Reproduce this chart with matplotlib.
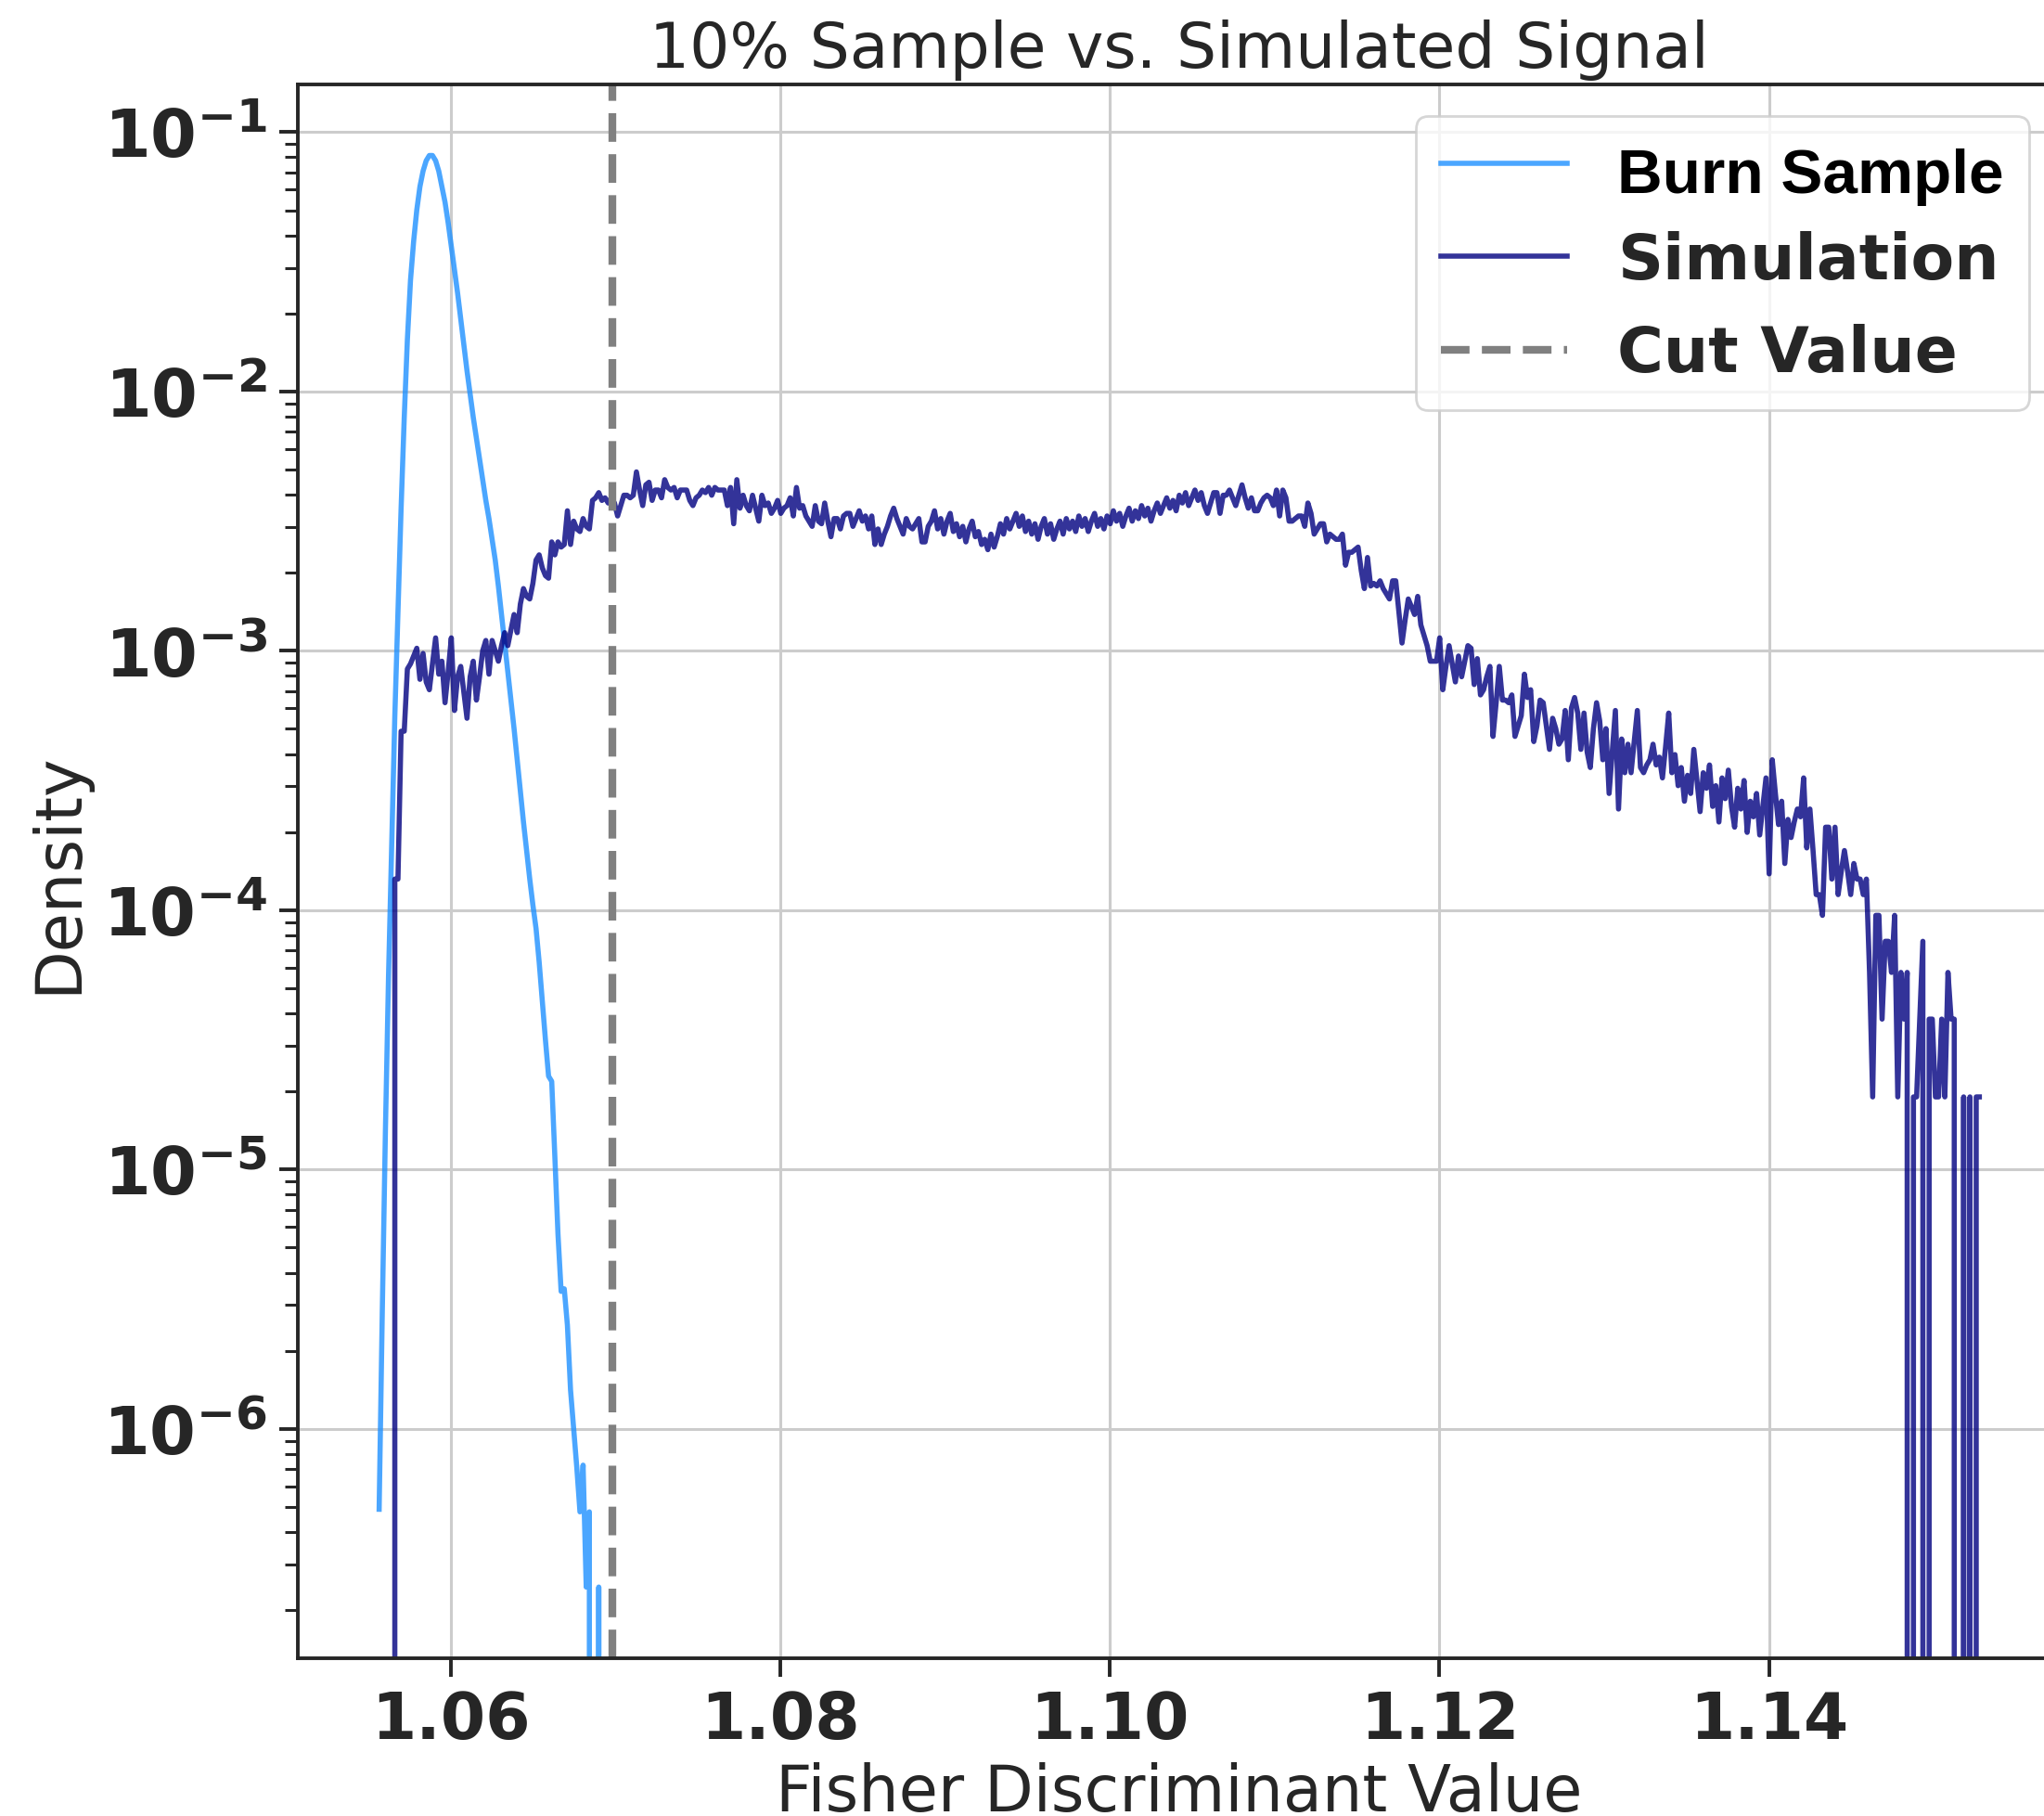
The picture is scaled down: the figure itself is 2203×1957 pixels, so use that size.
import numpy as np
import matplotlib
matplotlib.use('Agg')
import matplotlib.pyplot as plt
from matplotlib.ticker import FuncFormatter, NullFormatter
from matplotlib.transforms import ScaledTranslation

plt.rcParams['font.family'] = ['DejaVu Sans']
plt.rcParams['text.color'] = '#262626'
plt.rcParams['axes.labelcolor'] = '#262626'

# shared histogram bins (centres of first and last bin)
first_center = 1.05566
last_center = 1.15276
n_bins = 511
cut_value = 1.0698

# log10(density) per bin, None = empty bin
burn_log = [
    -6.31, -5.55, -4.85, -4.25, -3.75, -3.25, -2.85, -2.45, -2.10, -1.80,
    -1.57, -1.42, -1.30, -1.21, -1.15, -1.11, -1.09, -1.09, -1.11, -1.15,
    -1.21, -1.27, -1.35, -1.44, -1.53, -1.62, -1.72, -1.82, -1.92, -2.01,
    -2.10, -2.18, -2.26, -2.34, -2.42, -2.49, -2.57, -2.65, -2.75, -2.86,
    -2.97, -3.08, -3.19, -3.30, -3.42, -3.54, -3.66, -3.77, -3.88, -3.98,
    -4.07, -4.20, -4.35, -4.50, -4.64, -4.66, -4.95, -5.25, -5.47, -5.46,
    -5.60, -5.85, -6.00, -6.15, -6.32, -6.14, -6.61, -6.32, None, None,
    -6.61, None,
]

sim_log = [
    None, None, None, None, None, -3.88, -3.88, -3.31, -3.31, -3.07,
    -3.05, -3.02, -2.99, -3.11, -3.01, -3.12, -3.15, -3.05, -2.95, -3.09,
    -3.04, -3.20, -3.08, -2.95, -3.23, -3.10, -3.06, -3.16, -3.26, -3.10,
    -3.04, -3.19, -3.10, -3.00, -2.96, -3.09, -2.96, -3.00, -3.04, -2.98,
    -2.93, -2.98, -2.92, -2.86, -2.93, -2.82, -2.76, -2.79, -2.80, -2.74,
    -2.65, -2.63, -2.68, -2.71, -2.72, -2.58, -2.63, -2.58, -2.60, -2.59,
    -2.46, -2.59, -2.50, -2.53, -2.54, -2.49, -2.52, -2.53, -2.42, -2.41,
    -2.39, -2.42, -2.41, -2.43, -2.41, -2.43, -2.48, -2.44, -2.40, -2.40,
    -2.41, -2.40, -2.31, -2.38, -2.44, -2.36, -2.35, -2.42, -2.38, -2.38,
    -2.41, -2.34, -2.37, -2.38, -2.37, -2.41, -2.38, -2.38, -2.38, -2.42,
    -2.44, -2.41, -2.40, -2.38, -2.39, -2.37, -2.40, -2.37, -2.38, -2.38,
    -2.38, -2.44, -2.37, -2.51, -2.34, -2.45, -2.40, -2.44, -2.46, -2.40,
    -2.45, -2.50, -2.40, -2.44, -2.43, -2.47, -2.45, -2.42, -2.47, -2.45,
    -2.44, -2.41, -2.48, -2.37, -2.45, -2.44, -2.48, -2.50, -2.52, -2.44,
    -2.50, -2.51, -2.43, -2.50, -2.56, -2.49, -2.49, -2.53, -2.48, -2.47,
    -2.47, -2.52, -2.49, -2.46, -2.50, -2.48, -2.53, -2.48, -2.59, -2.53,
    -2.59, -2.55, -2.52, -2.48, -2.45, -2.49, -2.52, -2.55, -2.49, -2.52,
    -2.53, -2.51, -2.49, -2.58, -2.58, -2.52, -2.50, -2.46, -2.53, -2.49,
    -2.55, -2.50, -2.47, -2.54, -2.51, -2.56, -2.52, -2.58, -2.53, -2.50,
    -2.56, -2.54, -2.59, -2.57, -2.61, -2.55, -2.60, -2.56, -2.51, -2.55,
    -2.49, -2.53, -2.50, -2.47, -2.52, -2.48, -2.54, -2.50, -2.55, -2.51,
    -2.57, -2.52, -2.49, -2.55, -2.51, -2.57, -2.53, -2.50, -2.55, -2.49,
    -2.53, -2.50, -2.54, -2.48, -2.52, -2.49, -2.54, -2.50, -2.47, -2.52,
    -2.49, -2.53, -2.48, -2.51, -2.46, -2.50, -2.47, -2.52, -2.48, -2.45,
    -2.50, -2.46, -2.49, -2.44, -2.48, -2.45, -2.50, -2.46, -2.43, -2.47,
    -2.44, -2.41, -2.45, -2.42, -2.46, -2.40, -2.43, -2.39, -2.44, -2.41,
    -2.38, -2.42, -2.39, -2.44, -2.47, -2.43, -2.39, -2.39, -2.47, -2.40,
    -2.40, -2.38, -2.41, -2.44, -2.40, -2.36, -2.41, -2.45, -2.41, -2.46,
    -2.46, -2.43, -2.41, -2.40, -2.41, -2.44, -2.38, -2.48, -2.38, -2.41,
    -2.50, -2.50, -2.49, -2.48, -2.48, -2.52, -2.43, -2.47, -2.55, -2.53,
    -2.51, -2.51, -2.58, -2.55, -2.56, -2.57, -2.57, -2.55, -2.67, -2.62,
    -2.62, -2.61, -2.60, -2.69, -2.76, -2.64, -2.75, -2.74, -2.75, -2.73,
    -2.76, -2.78, -2.80, -2.73, -2.73, -2.85, -2.97, -2.88, -2.80, -2.83,
    -2.86, -2.79, -2.90, -2.94, -2.98, -3.04, -3.04, -3.04, -2.95, -3.15,
    -3.06, -2.98, -3.05, -3.12, -3.02, -3.10, -3.04, -2.98, -2.99, -3.13,
    -3.03, -3.17, -3.15, -3.10, -3.06, -3.33, -3.20, -3.06, -3.19, -3.19,
    -3.20, -3.17, -3.33, -3.29, -3.25, -3.09, -3.18, -3.15, -3.35, -3.29,
    -3.19, -3.20, -3.29, -3.38, -3.26, -3.30, -3.36, -3.34, -3.23, -3.42,
    -3.22, -3.18, -3.24, -3.38, -3.24, -3.39, -3.45, -3.30, -3.20, -3.27,
    -3.42, -3.30, -3.55, -3.39, -3.23, -3.61, -3.34, -3.47, -3.36, -3.47,
    -3.35, -3.23, -3.45, -3.47, -3.44, -3.42, -3.36, -3.44, -3.41, -3.49,
    -3.37, -3.24, -3.47, -3.40, -3.52, -3.45, -3.58, -3.48, -3.55, -3.38,
    -3.50, -3.62, -3.47, -3.53, -3.44, -3.60, -3.52, -3.66, -3.49, -3.57,
    -3.46, -3.60, -3.68, -3.53, -3.61, -3.50, -3.70, -3.58, -3.64, -3.55,
    -3.71, -3.60, -3.49, -3.86, -3.42, -3.55, -3.67, -3.58, -3.82, -3.65,
    -3.72, -3.66, -3.61, -3.64, -3.49, -3.76, -3.61, -3.77, -3.94, -3.94,
    -4.02, -3.68, -3.68, -3.88, -3.68, -3.94, -3.85, -3.77, -3.85, -3.94,
    -3.82, -3.88, -3.88, -3.94, -3.88, -4.24, -4.72, -4.02, -4.02, -4.42,
    -4.12, -4.12, -4.24, -4.02, -4.72, -4.24, -4.42, -4.24, None, -4.72,
    -4.72, -4.42, -4.12, None, -4.42, -4.42, -4.72, -4.72, -4.42, -4.72,
    -4.24, -4.42, -4.42, None, None, -4.72, None, -4.72, None, -4.72,
    -4.72,
]


def to_density(vals):
    return np.array([0.0 if v is None else 10.0 ** v for v in vals])


def decade_label(v, pos):
    return r'$\mathbf{10^{%d}}$' % int(round(np.log10(v)))


centers = np.linspace(first_center, last_center, n_bins)
burn_density = to_density(burn_log)
sim_density = to_density(sim_log)

fig = plt.figure(figsize=(11.015, 9.79), dpi=200)
ax = fig.add_axes([0.1455, 0.0866, 0.8627, 0.8664])
ax.set_yscale('log')

ax.plot(centers[:len(burn_density)], burn_density, color='dodgerblue',
        alpha=0.8, lw=2, label='Burn Sample')
ax.plot(centers, sim_density, color='navy', alpha=0.8, lw=2,
        label='Simulation')
ax.axvline(cut_value, color='gray', ls='--', lw=3, label='Cut Value')

ax.set_xlim(1.0507, 1.1577)
ax.set_ylim(1.3e-7, 0.1527)
ax.set_xticks([1.06, 1.08, 1.10, 1.12, 1.14])
ax.set_xticklabels(['1.06', '1.08', '1.10', '1.12', '1.14'],
                   fontweight='bold')
ax.yaxis.set_major_formatter(FuncFormatter(decade_label))
ax.yaxis.set_minor_formatter(NullFormatter())

ax.grid(True, which='major', color='#cccccc', lw=1.1)
ax.set_axisbelow(True)
for sp in ax.spines.values():
    sp.set_color('#262626')
    sp.set_linewidth(1.4)

ax.tick_params(which='major', length=7.2, width=1.4, color='#262626',
               labelsize=25, labelcolor='#262626', pad=4.5)
ax.tick_params(axis='y', which='major', labelsize=25.8)
ax.tick_params(which='minor', length=5, width=1.1, color='#262626')
ax.tick_params(axis='x', which='minor', bottom=False)

ax.set_title('10% Sample vs. Simulated Signal', fontsize=24.5, pad=7)
ax.set_xlabel('Fisher Discriminant Value', fontsize=24.7)
ax.set_ylabel('Density', fontsize=24.7, labelpad=5.5)

leg = ax.legend(loc='upper right', prop={'weight': 'bold', 'size': 24.5},
                framealpha=0.8, edgecolor='0.8', fancybox=True,
                labelspacing=0.5, borderaxespad=0.5)
burn_text = leg.get_texts()[0]
burn_text.set_fontfamily('Liberation Sans')
burn_text.set_fontsize(24.3)
burn_text.set_color('black')
# sit the first entry's text a little lower than its handle
burn_text.set_transform(burn_text.get_transform()
                        + ScaledTranslation(0, -0.035, fig.dpi_scale_trans))
for t in leg.get_texts()[1:]:
    t.set_color('#262626')

fig.savefig('out.png', dpi=200)
